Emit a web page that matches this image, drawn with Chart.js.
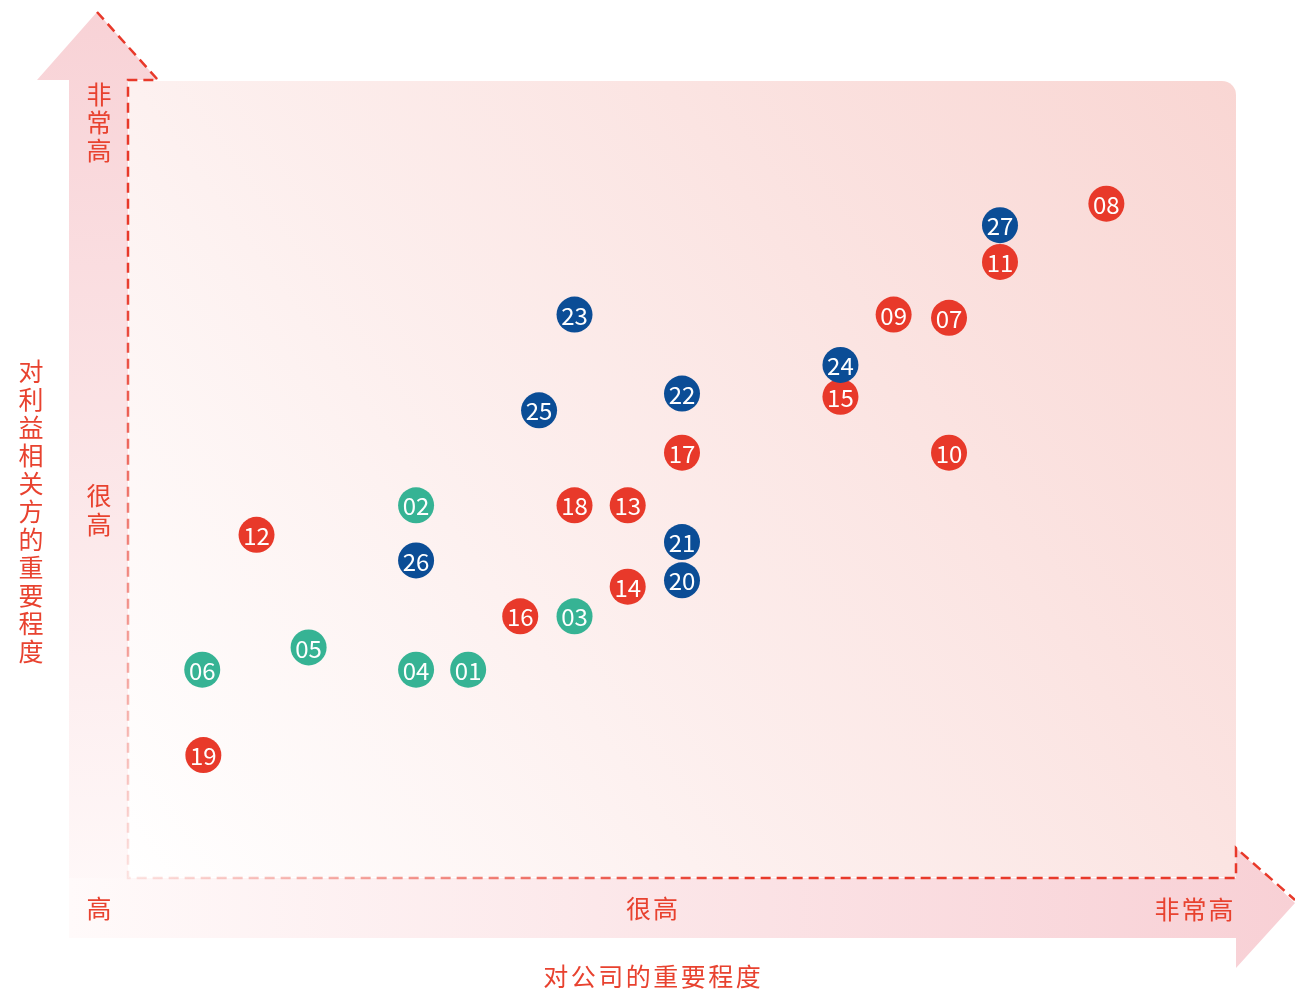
<!DOCTYPE html>
<html>
<head>
<meta charset="utf-8">
<script src="https://cdn.jsdelivr.net/npm/chart.js@4.4.1/dist/chart.umd.min.js"></script>
<style>
  html, body { margin: 0; padding: 0; background: #fff; }
  canvas { display: block; }
</style>
</head>
<body>
<canvas id="matrix-chart" width="1295" height="992"></canvas>
<script>
// topic ids and positions (importance to company = x, to stakeholders = y), 0-100
const greenIds = ['01', '02', '03', '04', '05', '06']
const greenX = [30.7, 26.0, 40.3, 26.0, 16.3, 6.7]
const greenY = [26.1, 46.7, 32.8, 26.1, 28.9, 26.1]

const blueIds = ['20', '21', '22', '23', '24', '25', '26', '27']
const blueX = [50.0, 50.0, 50.0, 40.3, 64.3, 37.1, 26.0, 78.7]
const blueY = [37.3, 42.1, 60.7, 70.6, 64.3, 58.6, 39.8, 81.8]

const redIds = ['07', '08', '09', '10', '11', '12', '13', '14', '15', '16', '17', '18', '19']
const redX = [74.1, 88.3, 69.1, 74.1, 78.7, 11.6, 45.1, 45.1, 64.3, 35.4, 50.0, 40.3, 6.8]
const redY = [70.2, 84.5, 70.6, 53.3, 77.2, 43.0, 46.7, 36.5, 60.3, 32.8, 53.3, 46.7, 15.4]

const levelLabels = ['高', '很高', '非常高']
const xTitle = '对公司的重要程度'
const yTitle = '对利益相关方的重要程度'

const RED = '#e8392a'
const BLUE = '#0b4d96'
const GREEN = '#36b394'
const TEXT_RED = '#e8422f'
const FONT = '"Noto Sans CJK SC", "Noto Sans", sans-serif'

function toPoints(xs, ys) {
  return xs.map((x, i) => ({ x: x, y: ys[i] }))
}

// write text one character at a time (vertical or spaced horizontal)
function spacedText(ctx, text, x, y, step, vertical) {
  const chars = Array.from(text)
  const offset = (chars.length - 1) * step / 2
  chars.forEach((c, i) => {
    if (vertical) ctx.fillText(c, x, y - offset + i * step)
    else ctx.fillText(c, x - offset + i * step, y)
  })
}

const backdrop = {
  id: 'backdrop',
  beforeDraw(chart) {
    const ctx = chart.ctx
    const { left: L, right: R, top: T, bottom: B } = chart.chartArea
    ctx.save()

    // vertical arrow
    let g = ctx.createLinearGradient(0, T - 70, 0, B + 60)
    g.addColorStop(0, '#f8d2d6')
    g.addColorStop(1, '#fffafa')
    ctx.fillStyle = g
    ctx.beginPath()
    ctx.moveTo(L - 31, T - 68)
    ctx.lineTo(L + 30, T)
    ctx.lineTo(L, T)
    ctx.lineTo(L, B + 60)
    ctx.lineTo(L - 59, B + 60)
    ctx.lineTo(L - 59, T)
    ctx.lineTo(L - 91, T)
    ctx.closePath()
    ctx.fill()

    // horizontal arrow
    g = ctx.createLinearGradient(L - 59, 0, R + 59, 0)
    g.addColorStop(0, '#fffafa')
    g.addColorStop(1, '#f8d0d5')
    ctx.fillStyle = g
    ctx.beginPath()
    ctx.moveTo(L - 59, B)
    ctx.lineTo(R, B)
    ctx.lineTo(R, B - 30)
    ctx.lineTo(R + 59, B + 25)
    ctx.lineTo(R, B + 90)
    ctx.lineTo(R, B + 60)
    ctx.lineTo(L - 59, B + 60)
    ctx.closePath()
    ctx.fill()

    // main panel
    g = ctx.createLinearGradient(L, B, R, T)
    g.addColorStop(0, '#ffffff')
    g.addColorStop(1, '#f9d6d3')
    ctx.fillStyle = g
    ctx.beginPath()
    ctx.moveTo(L + 1, T + 1)
    ctx.lineTo(R - 14, T + 1)
    ctx.arcTo(R, T + 1, R, T + 14, 14)
    ctx.lineTo(R, B - 1)
    ctx.lineTo(L + 1, B - 1)
    ctx.closePath()
    ctx.fill()

    // dashed outline, fading towards the origin
    g = ctx.createRadialGradient(L, B, 0, L, B, 820)
    g.addColorStop(0, 'rgba(232,57,42,0.12)')
    g.addColorStop(0.75, 'rgba(232,57,42,1)')
    g.addColorStop(1, 'rgba(232,57,42,1)')
    ctx.strokeStyle = g
    ctx.lineWidth = 2.5
    ctx.setLineDash([10, 6])
    ctx.beginPath()
    ctx.moveTo(L - 31, T - 68)
    ctx.lineTo(L + 30, T)
    ctx.lineTo(L, T)
    ctx.lineTo(L, B)
    ctx.lineTo(R, B)
    ctx.lineTo(R, B - 30)
    ctx.lineTo(R + 59, B + 22)
    ctx.stroke()
    ctx.setLineDash([])

    // axis texts
    ctx.fillStyle = TEXT_RED
    ctx.textAlign = 'center'
    ctx.textBaseline = 'middle'
    ctx.font = '25px ' + FONT
    spacedText(ctx, levelLabels[2], L - 29, T + 42, 28, true)
    spacedText(ctx, levelLabels[1], L - 29, B - 368, 29, true)
    ctx.fillText(levelLabels[0], L - 29, B + 30)
    spacedText(ctx, levelLabels[1], L + 524, B + 30, 27, false)
    spacedText(ctx, levelLabels[2], R - 42, B + 31, 27, false)
    spacedText(ctx, xTitle, L + 524, B + 98, 27.5, false)
    spacedText(ctx, yTitle, 31, 511, 28, true)
    ctx.restore()
  },
  afterDatasetsDraw(chart) {
    const ctx = chart.ctx
    const ids = [greenIds, blueIds, redIds]
    ctx.save()
    ctx.fillStyle = '#ffffff'
    ctx.textAlign = 'center'
    ctx.textBaseline = 'middle'
    ctx.font = '24px ' + FONT
    chart.data.datasets.forEach((ds, di) => {
      chart.getDatasetMeta(di).data.forEach((pt, i) => {
        ctx.fillText(ids[di][i], pt.x, pt.y + 1)
      })
    })
    ctx.restore()
  }
}

let matrixChart = new Chart(document.getElementById('matrix-chart'), {
  type: 'scatter',
  data: {
    datasets: [
      { label: 'green', data: toPoints(greenX, greenY), backgroundColor: GREEN },
      { label: 'blue', data: toPoints(blueX, blueY), backgroundColor: BLUE },
      { label: 'red', data: toPoints(redX, redY), backgroundColor: RED }
    ]
  },
  options: {
    responsive: false,
    animation: false,
    events: [],
    layout: { padding: { left: 128, right: 59, top: 80, bottom: 114 } },
    elements: { point: { radius: 18, hoverRadius: 18, borderWidth: 0 } },
    scales: {
      x: { type: 'linear', min: 0, max: 100, display: false },
      y: { type: 'linear', min: 0, max: 100, display: false }
    },
    plugins: {
      legend: { display: false },
      tooltip: { enabled: false }
    }
  },
  plugins: [backdrop]
})
</script>
</body>
</html>
